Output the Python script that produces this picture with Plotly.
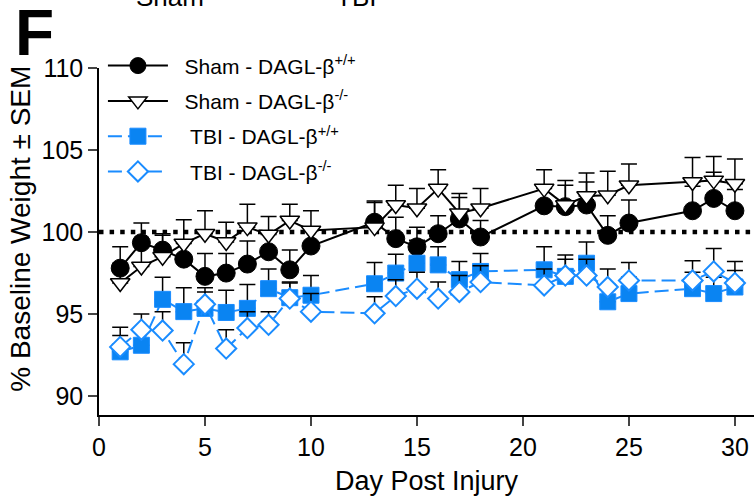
import plotly.graph_objects as go

days = [1, 2, 3, 4, 5, 6, 7, 8, 9, 10, 13, 14, 15, 16, 17, 18, 21, 22, 23, 24, 25, 28, 29, 30]

sham_wt = [97.8, 99.35, 98.9, 98.35, 97.3, 97.5, 98.05, 98.8, 97.7, 99.15, 100.6, 99.6,
           99.1, 99.9, 100.8, 99.7, 101.6, 101.55, 101.65, 99.8, 100.55, 101.3, 102.05, 101.3]
sham_wt_sem = [1.3, 1.2, 1.0, 1.1, 1.4, 1.2, 1.4, 1.15, 1.2, 1.15, 1.3, 1.3,
               1.2, 1.1, 1.3, 1.0, 1.2, 1.3, 1.4, 1.2, 1.4, 1.5, 1.6, 1.3]

sham_ko = [96.9, 97.9, 98.5, 99.3, 99.9, 99.4, 100.3, 99.85, 100.7, 100.1, 100.3, 101.65,
           101.45, 102.65, 101.15, 101.45, 102.65, 101.65, 102.2, 102.25, 102.85, 103.05, 103.15, 102.95]
sham_ko_sem = [1.2, 1.2, 1.3, 1.45, 1.4, 1.2, 1.4, 1.1, 1.0, 1.2, 1.5, 1.2,
               1.2, 1.15, 1.2, 1.2, 1.15, 1.5, 1.4, 1.45, 1.3, 1.5, 1.45, 1.5]

tbi_wt = [92.7, 93.1, 95.9, 95.15, 95.35, 95.1, 95.35, 96.55, 96.0, 96.15, 96.85, 97.5,
          98.1, 98.0, 97.1, 97.6, 97.7, 97.3, 98.1, 95.75, 96.25, 96.55, 96.25, 96.65]
tbi_wt_sem = [1.0, 0.9, 1.35, 1.45, 1.0, 1.35, 1.45, 1.2, 0.9, 1.2, 1.3, 1.15,
              1.4, 1.1, 1.1, 1.1, 1.4, 1.3, 1.3, 1.0, 1.0, 1.0, 1.0, 1.0]

tbi_ko = [93.0, 94.05, 94.0, 91.95, 95.6, 92.9, 94.15, 94.35, 95.95, 95.15, 95.05, 96.1,
          96.55, 95.95, 96.35, 96.95, 96.75, 97.35, 97.35, 96.65, 97.05, 97.05, 97.6, 96.9]
tbi_ko_sem = [1.2, 0.95, 1.15, 1.3, 1.0, 1.15, 1.0, 0.8, 1.0, 1.1, 1.0, 1.0,
              1.0, 1.0, 1.0, 1.0, 1.0, 1.0, 1.0, 1.1, 1.1, 1.2, 1.4, 1.3]

names = ["  Sham - DAGL-β<sup>+/+</sup>", "  Sham - DAGL-β<sup>-/-</sup>",
         "   TBI - DAGL-β<sup>+/+</sup>", "   TBI - DAGL-β<sup>-/-</sup>"]

x_ticks = [0, 5, 10, 15, 20, 25, 30]
y_ticks = [90, 95, 100, 105, 110]
baseline = 100

BLUE = "#1a8cff"
BLUE_FILL = "#0a84f2"
FONT = "Liberation Sans, Arial, sans-serif"

fig = go.Figure()


def err(sem):
    return dict(type="data", symmetric=False, array=sem, arrayminus=[0] * len(sem),
                color="black", thickness=1.5, width=8)


fig.add_trace(go.Scatter(
    x=days, y=sham_wt, name=names[0], mode="lines+markers", legendgroup="a",
    line=dict(color="black", width=2),
    marker=dict(symbol="circle", size=18, color="black", line=dict(color="black", width=1)),
    error_y=err(sham_wt_sem)))
fig.add_trace(go.Scatter(
    x=days, y=sham_ko, name=names[1], mode="lines+markers", legendgroup="b",
    line=dict(color="black", width=2),
    marker=dict(symbol="triangle-down", size=17, color="white", line=dict(color="black", width=1.5)),
    error_y=err(sham_ko_sem)))
fig.add_trace(go.Scatter(
    x=days, y=tbi_wt, name=names[2], mode="lines+markers", legendgroup="c",
    line=dict(color=BLUE, width=2, dash="14px,6px"),
    marker=dict(symbol="square", size=16, color=BLUE_FILL, line=dict(color=BLUE, width=1)),
    error_y=err(tbi_wt_sem)))
fig.add_trace(go.Scatter(
    x=days, y=tbi_ko, name=names[3], mode="lines+markers", legendgroup="d",
    line=dict(color=BLUE, width=2, dash="14px,6px"),
    marker=dict(symbol="diamond", size=15.5, color="white", line=dict(color=BLUE, width=2)),
    error_y=err(tbi_ko_sem)))

fig.add_shape(type="line", xref="paper", yref="y", x0=0, x1=1, y0=baseline, y1=baseline,
              line=dict(color="black", width=4.5, dash="4.5px,6.1px"), layer="below")

fig.add_annotation(text="<b>F</b>", xref="paper", yref="paper", x=-0.098, y=1.1,
                   xanchor="center", yanchor="middle", showarrow=False,
                   font=dict(family=FONT, size=64, color="black"))
fig.add_annotation(text="Sham", xref="paper", yref="paper", x=0.108, y=1.205,
                   xanchor="center", yanchor="middle", showarrow=False,
                   font=dict(family=FONT, size=26, color="black"))
fig.add_annotation(text="TBI", xref="paper", yref="paper", x=0.393, y=1.205,
                   xanchor="center", yanchor="middle", showarrow=False,
                   font=dict(family=FONT, size=26, color="black"))
fig.add_annotation(text="% Baseline Weight ± SEM", xref="paper", yref="paper",
                   x=-0.121, y=0.536, xanchor="center", yanchor="middle", textangle=-90,
                   showarrow=False, font=dict(family=FONT, size=28, color="black"))

fig.update_layout(
    width=754, height=496,
    margin=dict(l=99, r=0, t=68, b=81),
    paper_bgcolor="white", plot_bgcolor="white",
    font=dict(family=FONT, size=25, color="black"),
    showlegend=True,
    legend=dict(x=0.006, y=1.065, xanchor="left", yanchor="top",
                font=dict(family=FONT, size=21, color="black"),
                bgcolor="rgba(0,0,0,0)", traceorder="grouped", tracegroupgap=5,
                itemwidth=60),
    xaxis=dict(range=[0, 30.9], tickvals=x_ticks, ticks="outside", ticklen=9, tickwidth=1.5,
               showline=True, linecolor="black", linewidth=1.5, showgrid=False, zeroline=False,
               title=dict(text="Day Post Injury", font=dict(size=27), standoff=11),
               tickfont=dict(size=25)),
    yaxis=dict(range=[88.85, 110], tickvals=y_ticks, ticks="outside", ticklen=9, tickwidth=1.5,
               showline=True, linecolor="black", linewidth=1.5, showgrid=False, zeroline=False,
               tickfont=dict(size=25)),
)

fig.write_html("out.html")
